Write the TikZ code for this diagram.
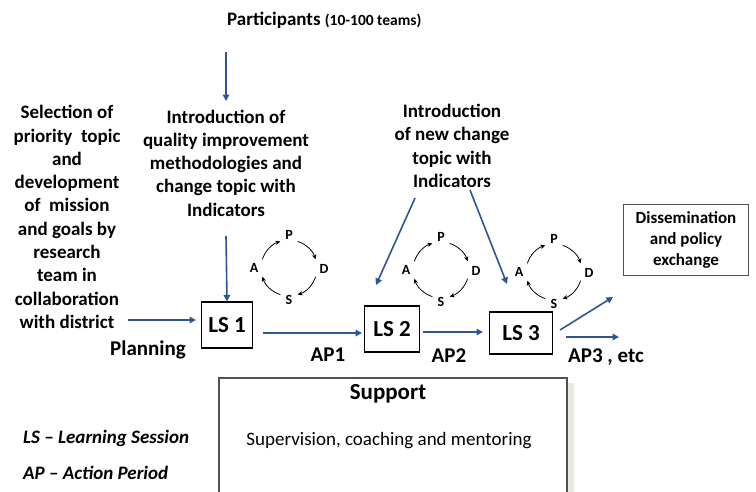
\documentclass[tikz,border=0pt]{standalone}
\usepackage{fontspec}
\setmainfont{Carlito}
\usetikzlibrary{arrows.meta}
\definecolor{arrblue}{HTML}{2F5597}
\definecolor{shadowc}{HTML}{ECE9DF}
\definecolor{boxgray}{HTML}{505050}
\newcommand{\pdsacycle}[3]{%
  \begin{scope}[shift={(#2,#3)}]
    \node[lt] (#1P) at (0,-33) {P};
    \node[lt] (#1D) at (35,1) {D};
    \node[lt] (#1S) at (0,32) {S};
    \node[lt] (#1A) at (-35,0) {A};
    \draw[cyc] (-162:28) arc[start angle=-162, end angle=-108, radius=28];
    \draw[cyc] (-72:28) arc[start angle=-72, end angle=-18, radius=28];
    \draw[cyc] (18:28) arc[start angle=18, end angle=72, radius=28];
    \draw[cyc] (108:28) arc[start angle=108, end angle=162, radius=28];
  \end{scope}}
\begin{document}
\begin{tikzpicture}[x=1pt,y=-1pt,
  lbl/.style={font=\bfseries\fontsize{19}{23.3}\selectfont, align=center, inner sep=0pt},
  arr/.style={draw=arrblue, line width=1.6pt, -{Triangle[length=6.5pt,width=6.5pt]}},
  lsbox/.style={draw=black, line width=1.1pt, font=\bfseries\fontsize{23}{27}\selectfont, inner sep=0pt},
  cyc/.style={line width=0.8pt, -{Stealth[length=5pt,width=4.5pt]}},
  lt/.style={font=\bfseries\fontsize{14}{16}\selectfont, inner sep=0pt},
  aplbl/.style={font=\bfseries\fontsize{21}{25}\selectfont, inner sep=0pt},
  legend/.style={font=\bfseries\itshape\fontsize{19}{23}\selectfont, inner sep=0pt, anchor=west}]
\useasboundingbox (0,0) rectangle (756,491);
\fill[white] (0,0) rectangle (756,491);

% titles and texts
\node[inner sep=0pt, anchor=west] (part) at (227,20)
  {\bfseries\fontsize{19}{23}\selectfont Participants \fontsize{15.5}{18}\selectfont(10-100 teams)};
\node[lbl] (left) at (67,217) {Selection of\\priority~~topic\\and\\development\\of~~mission\\and goals by\\research\\team in\\collaboration\\with district};
\node[lbl] (intro1) at (226,163) {Introduction of\\quality improvement\\methodologies and\\change topic with\\Indicators};
\node[lbl] (intro2) at (452,146) {Introduction\\of new change\\topic with\\Indicators};

% LS boxes
\node[lsbox, minimum width=51pt, minimum height=46pt] (ls1) at (227,325) {LS 1};
\node[lsbox, minimum width=55pt, minimum height=46pt] (ls2) at (392,329) {LS 2};
\node[lsbox, minimum width=63pt, minimum height=42pt] (ls3) at (521,333) {LS 3};

\node[draw=boxgray, line width=1.1pt, minimum width=125pt, minimum height=71pt, inner sep=0pt,
  font=\bfseries\fontsize{17}{20.7}\selectfont, align=center] (diss) at (686,240)
  {Dissemination\\and policy\\exchange};

% labels
\node[aplbl] (plan) at (148,350) {Planning};
\node[aplbl] (ap1) at (328,355) {AP1};
\node[aplbl] (ap2) at (449,356) {AP2};
\node[aplbl] (ap3) at (606,357) {AP3 , etc};

% PDSA cycles
\pdsacycle{c1}{289}{268}
\pdsacycle{c2}{441}{270}
\pdsacycle{c3}{554}{272}

% connector end points
\coordinate (p1s) at (226,52);
\coordinate (p1e) at (226,101);
\coordinate (i1s) at (226,236);
\coordinate (lfs) at (128,320);
\coordinate (lfe) at (196,320);
\coordinate (a1s) at (263,333);
\coordinate (a1e) at (362,333);
\coordinate (a2s) at (423,332);
\coordinate (a2e) at (483,332);
\coordinate (i2s) at (415,198);
\coordinate (i2e) at (376,285);
\coordinate (i3s) at (470,190);
\coordinate (i3e) at (507,284);
\coordinate (dse) at (613,297);
\coordinate (ds) at (560,330);
\coordinate (a3s) at (566,337);
\coordinate (a3e) at (619,337);

\draw[arr] (p1s) -- (p1e);
\draw[arr] (i1s) -- (ls1.north);
\draw[arr] (lfs) -- (lfe);
\draw[arr] (a1s) -- (a1e);
\draw[arr] (a2s) -- (a2e);
\draw[arr] (i2s) -- (i2e);
\draw[arr] (i3s) -- (i3e);
\draw[arr] (ds) -- (dse);
\draw[arr] (a3s) -- (a3e);

% support box
\fill[shadowc] (567,383) rectangle (574,495);
\draw[boxgray, line width=1.1pt] (219,495) -- (219,378) -- (567,378) -- (567,495);
\node[font=\bfseries\fontsize{23}{27}\selectfont, inner sep=0pt] (support) at (388,394) {Support};
\node[font=\fontsize{19}{22}\selectfont, inner sep=0pt] (superv) at (389,441) {Supervision, coaching and mentoring};

% legend
\node[legend] (lg1) at (23,438) {LS -- Learning Session};
\node[legend] (lg2) at (23,473) {AP -- Action Period};
\end{tikzpicture}
\end{document}
